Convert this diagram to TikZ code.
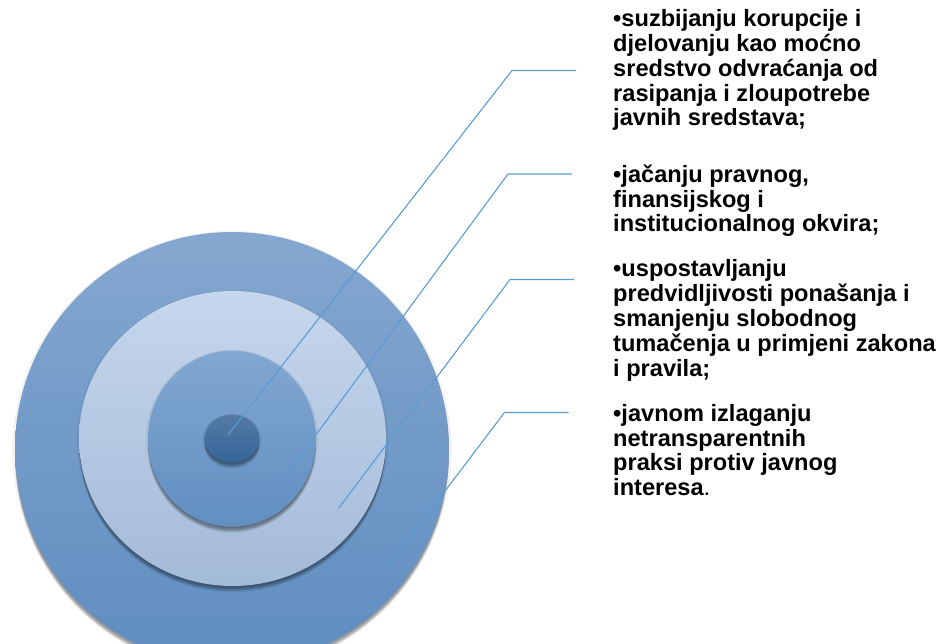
\documentclass[tikz,border=0pt]{standalone}
\usepackage{fontspec}
\setmainfont{Liberation Sans}
\usetikzlibrary{shapes.geometric,shadows}

\definecolor{outerTop}{RGB}{132,167,207}
\definecolor{outerBot}{RGB}{95,141,192}
\definecolor{lightTop}{RGB}{198,215,237}
\definecolor{lightBot}{RGB}{163,186,216}
\definecolor{midTop}{RGB}{130,167,208}
\definecolor{midBot}{RGB}{96,143,193}
\definecolor{coreTop}{RGB}{84,122,163}
\definecolor{coreBot}{RGB}{52,101,152}
\definecolor{leaderBlue}{RGB}{91,155,213}

\begin{document}
\begin{tikzpicture}[x=1pt, y=-1pt,
  ring/.style={ellipse, inner sep=0pt, draw=none,
    general shadow={fill=black, opacity=.05, shadow scale=#1, shadow yshift=-1.5pt},
    general shadow={fill=black, opacity=.12, shadow yshift=-1.5pt},
    general shadow={fill=black, opacity=.12, shadow yshift=-3pt},
    general shadow={fill=black, opacity=.12, shadow yshift=-4.5pt},
    general shadow={fill=black, opacity=.10, shadow yshift=-6pt}},
  leader/.style={draw=leaderBlue, line width=1.1pt},
  point/.style={font=\fontsize{23.6}{24.8}\selectfont\bfseries, align=left,
    anchor=north west, inner sep=0pt}]
  \useasboundingbox (0,0) rectangle (945,644);

  % target rings
  \begin{scope}
    \clip (0,0) rectangle (945,644);
    \node[ring=1.012, top color=outerTop, bottom color=outerBot,
      minimum width=434pt, minimum height=434pt] at (232,449) (ringOuter) {};
    \node[ring=1.015, top color=lightTop, bottom color=lightBot,
      minimum width=307pt, minimum height=295pt] at (232.5,438.5) (ringLight) {};
    \node[ring=1.03, top color=midTop, bottom color=midBot,
      minimum width=168pt, minimum height=176pt] at (232,438.7) (ringMid) {};
    \node[ring=1.08, top color=coreTop, bottom color=coreBot,
      minimum width=55pt, minimum height=48pt] at (232,438.5) (ringCore) {};
  \end{scope}

  % texts
  \node[point] at (613,9.5) (txtCorrupt)
    {•suzbijanju korupcije i\\djelovanju kao moćno\\sredstvo odvraćanja od\\rasipanja i zloupotrebe\\javnih sredstava;};
  \node[point] at (613,164.5) (txtFrame)
    {•jačanju pravnog,\\finansijskog i\\institucionalnog okvira;};
  \node[point] at (613,259.5) (txtRules)
    {•uspostavljanju\\predvidljivosti ponašanja i\\smanjenju slobodnog\\tumačenja u primjeni zakona\\i pravila;};
  \node[point] at (613,404) (txtExpose)
    {•javnom izlaganju\\netransparentnih\\praksi protiv javnog\\interesa{\mdseries.}};

  % leader lines
  \coordinate (tipCorrupt) at (228,435);
  \coordinate (bendCorrupt) at (512,70.5);
  \coordinate (endCorrupt) at (576,70.5);
  \coordinate (tipFrame) at (286,475.5);
  \coordinate (bendFrame) at (508,174);
  \coordinate (endFrame) at (572,174);
  \coordinate (tipRules) at (338.5,508.5);
  \coordinate (bendRules) at (510,279.5);
  \coordinate (endRules) at (574,279.5);
  \coordinate (tipExpose) at (385.5,569.5);
  \coordinate (bendExpose) at (504.5,412.5);
  \coordinate (endExpose) at (568.5,412.5);

  \draw[leader] (tipCorrupt) -- (bendCorrupt) -- (endCorrupt);
  \draw[leader] (tipFrame) -- (bendFrame) -- (endFrame);
  \draw[leader] (tipRules) -- (bendRules) -- (endRules);
  \draw[leader] (tipExpose) -- (bendExpose) -- (endExpose);
\end{tikzpicture}
\end{document}
